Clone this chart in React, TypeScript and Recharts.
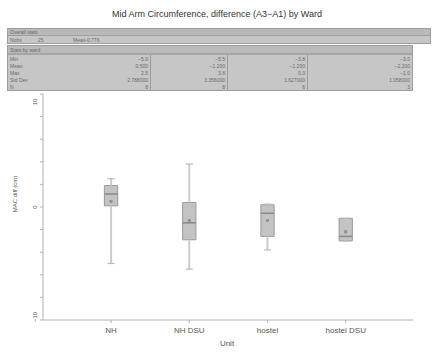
import {
  ComposedChart,
  XAxis,
  YAxis,
  Scatter,
  ReferenceArea,
  ReferenceLine,
} from "recharts";

// Box statistics per ward (MAC difference, cm)
const units = ["NH", "NH DSU", "hostel", "hostel DSU"];
const minVals = [-5.0, -5.5, -3.8, -3.0];
const q1Vals = [0.1, -2.9, -2.6, -3.0];
const medianVals = [1.15, -1.4, -0.55, -2.6];
const q3Vals = [1.9, 0.4, 0.2, -1.0];
const maxVals = [2.5, 3.8, 0.25, -1.0];
const meanVals = [0.5, -1.2, -1.2, -2.2];
const stdDevs = [2.788, 3.356, 1.627, 1.058];
const counts = [8, 8, 6, 3];

const yTicks = [-10, -8, -6, -4, -2, 0, 2, 4, 6, 8, 10];
const yLabelTicks = [-10, 0, 10];

const FONT = "'Liberation Sans', Arial, sans-serif";
const BOX_HALF = 0.085;
const CAP_HALF = 0.045;

const totalN = counts.reduce((a, b) => a + b, 0);
const overallMean =
  counts.reduce((acc, n, i) => acc + n * meanVals[i], 0) / totalN;

const meanData = units.map((u, i) => ({ x: i, y: meanVals[i], unit: u }));

const fmt = (v: number, d: number) =>
  v < 0 ? `\u2212${Math.abs(v).toFixed(d)}` : v.toFixed(d);

const YTick = ({ x, y, payload }: any) => {
  if (!yLabelTicks.includes(payload.value)) return null;
  const shift = payload.value === 10 ? 8 : payload.value === -10 ? -3 : 0;
  const label = payload.value < 0 ? `\u2212${Math.abs(payload.value)}` : `${payload.value}`;
  return (
    <text
      x={x}
      y={y + shift}
      transform={`rotate(-90 ${x} ${y + shift})`}
      textAnchor="middle"
      fontSize={6}
      fontFamily={FONT}
      fill="#555"
    >
      {label}
    </text>
  );
};

const XTick = ({ x, y, payload }: any) => (
  <text x={x} y={y + 8} textAnchor="middle" fontSize={8} fontFamily={FONT} fill="#555">
    {units[payload.value] ?? ""}
  </text>
);

const MeanMarker = ({ cx, cy }: any) => (
  <rect x={cx - 1.2} y={cy - 1.2} width={2.4} height={2.4} fill="#8f8f8f" stroke="#888" strokeWidth={0.4} />
);

const cell: React.CSSProperties = {
  position: "absolute",
  fontSize: 5,
  fontFamily: FONT,
  color: "#6a6a6a",
  whiteSpace: "nowrap",
  lineHeight: "6px",
};

function StatsTable() {
  const rows = [
    { name: "Min", vals: minVals.map((v) => fmt(v, 1)) },
    { name: "Mean", vals: meanVals.map((v) => fmt(v, 3)) },
    { name: "Max", vals: maxVals.map((v) => fmt(v, 1)) },
    { name: "Std Dev", vals: stdDevs.map((v) => v.toFixed(6)) },
    { name: "N", vals: counts.map((v) => `${v}`) },
  ];
  const colRight = [148, 225, 305, 410];
  const dividers = [150, 227, 307];
  return (
    <>
      {/* overall stats */}
      <div style={{ position: "absolute", left: 7, top: 28, width: 424, height: 16, background: "#c6c6c6", border: "1px solid #9c9c9c", boxSizing: "border-box" }} />
      <div style={{ position: "absolute", left: 8, top: 29, width: 422, height: 6, background: "#b9b9b9", borderBottom: "1px solid #a0a0a0" }} />
      <div style={{ ...cell, left: 10, top: 29 }}>Overall stats</div>
      <div style={{ ...cell, left: 10, top: 37 }}>Nobs</div>
      <div style={{ ...cell, left: 38, top: 37 }}>{totalN}</div>
      <div style={{ ...cell, left: 73, top: 37 }}>Mean</div>
      <div style={{ ...cell, left: 84, top: 37 }}>{fmt(overallMean, 3)}</div>

      {/* stats by ward */}
      <div style={{ position: "absolute", left: 7, top: 45, width: 406, height: 46, background: "#c6c6c6", border: "1px solid #9c9c9c", boxSizing: "border-box" }} />
      <div style={{ position: "absolute", left: 8, top: 46, width: 404, height: 7, background: "#bababa", borderBottom: "2px solid #a6a6a6" }} />
      <div style={{ ...cell, left: 10, top: 47 }}>Stats by ward</div>
      {dividers.map((d) => (
        <div key={d} style={{ position: "absolute", left: d, top: 55, width: 1, height: 35, background: "#9c9c9c" }} />
      ))}
      {rows.map((r, ri) => (
        <div key={r.name}>
          <div style={{ ...cell, left: 10, top: 56 + ri * 7 }}>{r.name}</div>
          {r.vals.map((v, ci) => (
            <div key={ci} style={{ ...cell, left: colRight[ci] - 40, width: 40, textAlign: "right", top: 56 + ri * 7 }}>
              {v}
            </div>
          ))}
        </div>
      ))}
    </>
  );
}

export default function App() {
  return (
    <div style={{ position: "absolute", left: 0, top: 0, width: 434, height: 354, background: "#fff", overflow: "hidden" }}>
      <div
        style={{
          position: "absolute",
          top: 9,
          left: 0,
          width: 434,
          textAlign: "center",
          fontSize: 9,
          fontFamily: FONT,
          color: "#333",
        }}
      >
        Mid Arm Circumference, difference (A3{"\u2212"}A1) by Ward
      </div>
      <StatsTable />
      <div
        style={{
          position: "absolute",
          left: 15,
          top: 194,
          transform: "translate(-50%, -50%) rotate(-90deg)",
          fontSize: 6,
          fontFamily: FONT,
          color: "#555",
          whiteSpace: "nowrap",
        }}
      >
        MAC diff (cm)
      </div>
      <div
        style={{
          position: "absolute",
          left: 227,
          top: 339,
          transform: "translateX(-50%)",
          fontSize: 8,
          fontFamily: FONT,
          color: "#555",
        }}
      >
        Unit
      </div>
      <div style={{ position: "absolute", left: 0, top: 0 }}>
        <ComposedChart width={434} height={354} margin={{ top: 94, right: 21, bottom: 0, left: 13 }}>
          <XAxis
            type="number"
            dataKey="x"
            domain={[-0.87, 3.86]}
            allowDataOverflow
            ticks={[0, 1, 2, 3]}
            interval={0}
            height={34}
            stroke="#b0b0b0"
            tickSize={3}
            tick={<XTick />}
          />
          <YAxis
            type="number"
            dataKey="y"
            domain={[-10, 10]}
            ticks={yTicks}
            interval={0}
            width={30}
            stroke="#b0b0b0"
            tickSize={3}
            tick={<YTick />}
            tickMargin={3}
          />
          <YAxis yAxisId="r" orientation="right" width={0} tick={false} tickLine={false} stroke="#bbb" domain={[-10, 10]} />

          {units.map((u, i) => (
            <ReferenceLine
              key={`wl-${u}`}
              segment={[{ x: i, y: minVals[i] }, { x: i, y: q1Vals[i] }]}
              stroke="#cccccc"
              strokeWidth={2}
            />
          ))}
          {units.map((u, i) => (
            <ReferenceLine
              key={`wh-${u}`}
              segment={[{ x: i, y: q3Vals[i] }, { x: i, y: maxVals[i] }]}
              stroke="#cccccc"
              strokeWidth={2}
            />
          ))}
          {units.map((u, i) => (
            <ReferenceLine
              key={`cl-${u}`}
              segment={[{ x: i - CAP_HALF, y: minVals[i] }, { x: i + CAP_HALF, y: minVals[i] }]}
              stroke="#b8b8b8"
              strokeWidth={1.2}
            />
          ))}
          {units.map((u, i) => (
            <ReferenceLine
              key={`ch-${u}`}
              segment={[{ x: i - CAP_HALF, y: maxVals[i] }, { x: i + CAP_HALF, y: maxVals[i] }]}
              stroke="#b8b8b8"
              strokeWidth={1.2}
            />
          ))}
          {units.map((u, i) => (
            <ReferenceArea
              key={`box-${u}`}
              x1={i - BOX_HALF}
              x2={i + BOX_HALF}
              y1={q1Vals[i]}
              y2={q3Vals[i]}
              fill="#c3c3c3"
              fillOpacity={1}
              stroke="#9a9a9a"
              strokeWidth={1}
            />
          ))}
          {units.map((u, i) => (
            <ReferenceLine
              key={`med-${u}`}
              segment={[{ x: i - BOX_HALF, y: medianVals[i] }, { x: i + BOX_HALF, y: medianVals[i] }]}
              stroke="#8c8c8c"
              strokeWidth={1.6}
            />
          ))}
          <Scatter data={meanData} dataKey="y" shape={<MeanMarker />} isAnimationActive={false} />
        </ComposedChart>
      </div>
    </div>
  );
}
